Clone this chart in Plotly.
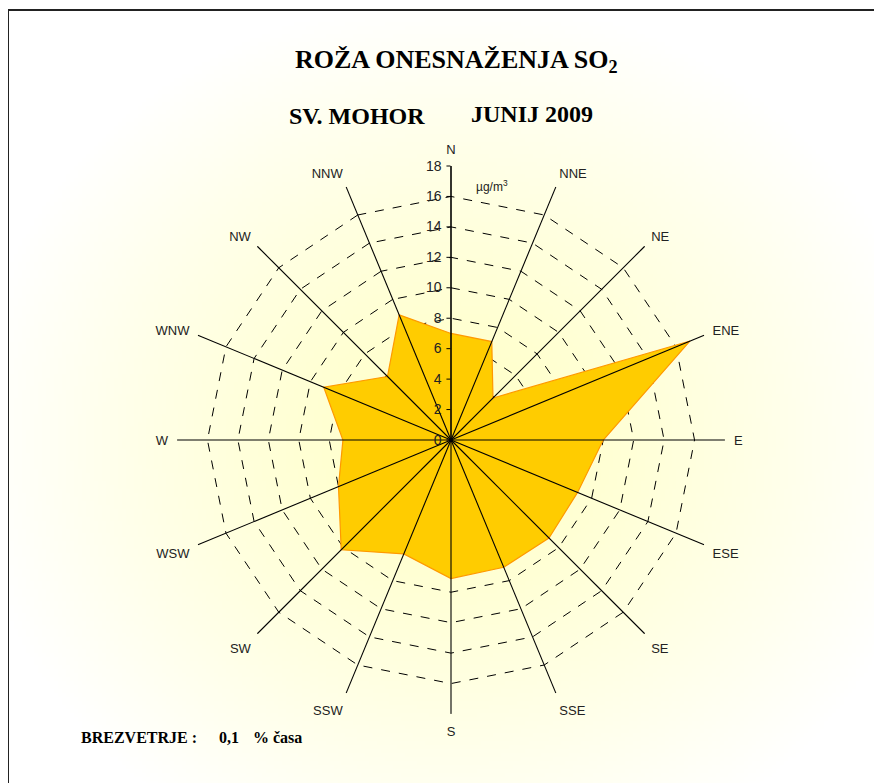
import base64
import struct
import zlib

import numpy as np
import plotly.graph_objects as go

# ---------------- data ----------------
directions = ["N", "NNE", "NE", "ENE", "E", "ESE", "SE", "SSE",
              "S", "SSW", "SW", "WSW", "W", "WNW", "NW", "NNW"]
so2_values = [7.0, 7.0, 3.9, 17.0, 10.0, 9.0, 9.1, 9.05,
              9.1, 8.1, 10.2, 8.0, 7.1, 9.05, 5.9, 8.9]
radial_ticks = [0, 2, 4, 6, 8, 10, 12, 14, 16, 18]
title_text = "ROŽA ONESNAŽENJA SO<sub>2</sub>"
station_text = "SV. MOHOR"
period_text = "JUNIJ 2009"
unit_text = "µg/m<sup>3</sup>"
calm_label = "BREZVETRJE :"
calm_value = "0,1"
calm_unit = "% časa"

W, H = 882, 783
OFF = 8  # page body margin offset
CX, CY, R = 451 - OFF, 440 - OFF, 274
rmax = radial_ticks[-1]


def px_x(x):
    return (x - OFF) / W


def px_y(y):
    return 1 - (y - OFF) / H


# ---------------- background gradient (png) ----------------
def gradient_png(w, h):
    ys, xs = np.mgrid[0:h, 0:w]
    px = xs * (W / w)
    py = ys * (H / h)
    d = np.sqrt(((px - CX) / 480.0) ** 2 + ((py - CY) / 440.0) ** 2)
    t = np.clip(d, 0, 1)
    b = (198 + (255 - 198) * t ** 1.2).astype(np.uint8)
    img = np.zeros((h, w, 3), dtype=np.uint8)
    img[..., 0] = 255
    img[..., 1] = 255
    img[..., 2] = b
    raw = b"".join(b"\x00" + img[y].tobytes() for y in range(h))

    def chunk(tag, data):
        c = struct.pack(">I", len(data)) + tag + data
        return c + struct.pack(">I", zlib.crc32(tag + data) & 0xFFFFFFFF)

    png = b"\x89PNG\r\n\x1a\n"
    png += chunk(b"IHDR", struct.pack(">IIBBBBB", w, h, 8, 2, 0, 0, 0))
    png += chunk(b"IDAT", zlib.compress(raw, 9))
    png += chunk(b"IEND", b"")
    return "data:image/png;base64," + base64.b64encode(png).decode()


bg_src = gradient_png(221, 196)

fig = go.Figure()

# filled rose
fig.add_trace(go.Scatterpolar(
    r=so2_values + [so2_values[0]],
    theta=directions + [directions[0]],
    mode="lines",
    fill="toself",
    fillcolor="#FFCC00",
    line=dict(color="#FF9900", width=1.2),
    hoverinfo="skip",
    showlegend=False,
))

# spokes drawn above the fill
sp_r, sp_t = [], []
for d in directions:
    sp_r += [0, rmax, None]
    sp_t += [d, d, None]
fig.add_trace(go.Scatterpolar(
    r=sp_r, theta=sp_t, mode="lines",
    line=dict(color="black", width=1.1),
    hoverinfo="skip", showlegend=False, connectgaps=False,
))
# center dot
fig.add_trace(go.Scatterpolar(
    r=[0], theta=[directions[0]], mode="markers",
    marker=dict(color="black", size=7),
    hoverinfo="skip", showlegend=False,
))

dom_x = [(CX - R) / W, (CX + R) / W]
dom_y = [(H - CY - R) / H, (H - CY + R) / H]

serif = "Liberation Serif, Times New Roman"
sans = "Liberation Sans, Arial"

fig.update_layout(
    width=W, height=H, autosize=False,
    margin=dict(l=0, r=0, t=0, b=0),
    paper_bgcolor="white",
    plot_bgcolor="rgba(0,0,0,0)",
    images=[dict(source=bg_src, xref="paper", yref="paper", x=0, y=1,
                 sizex=1, sizey=1, sizing="stretch", layer="below")],
    polar=dict(
        domain=dict(x=dom_x, y=dom_y),
        bgcolor="rgba(0,0,0,0)",
        gridshape="linear",
        angularaxis=dict(
            direction="clockwise", rotation=90,
            categoryorder="array", categoryarray=directions,
            showline=False, showgrid=False,
            ticks="outside", ticklen=6, tickcolor="rgba(0,0,0,0)",
            tickfont=dict(family=sans, size=13, color="#222"),
        ),
        radialaxis=dict(
            range=[0, rmax], tickvals=radial_ticks,
            angle=90, tickangle=90,
            side="counterclockwise",
            showline=True, linecolor="black", linewidth=1.1,
            ticks="outside", ticklen=4, tickcolor="black",
            showgrid=True, gridcolor="black", gridwidth=1, griddash="dash",
            tickfont=dict(family=sans, size=14, color="#222"),
        ),
    ),
    shapes=[dict(type="rect", xref="paper", yref="paper",
                 x0=px_x(8), x1=px_x(880), y0=-0.05, y1=px_y(10),
                 line=dict(color="#222", width=2), fillcolor="rgba(0,0,0,0)")],
    annotations=[
        dict(text="<b>" + title_text + "</b>", x=px_x(456), y=px_y(61),
             xref="paper", yref="paper", showarrow=False, xanchor="center", yanchor="middle",
             font=dict(family=serif, size=26, color="black")),
        dict(text="<b>" + station_text + "</b>", x=px_x(357), y=px_y(116),
             xref="paper", yref="paper", showarrow=False, xanchor="center", yanchor="middle",
             font=dict(family=serif, size=24, color="black")),
        dict(text="<b>" + period_text + "</b>", x=px_x(532), y=px_y(114),
             xref="paper", yref="paper", showarrow=False, xanchor="center", yanchor="middle",
             font=dict(family=serif, size=24, color="black")),
        dict(text=unit_text, x=px_x(492), y=px_y(186), xref="paper", yref="paper",
             showarrow=False, xanchor="center", yanchor="middle",
             font=dict(family=sans, size=12, color="#222")),
        dict(text="<b>" + calm_label + "</b>", x=px_x(79), y=px_y(737),
             xref="paper", yref="paper", showarrow=False, xanchor="left", yanchor="middle",
             font=dict(family=serif, size=16, color="black")),
        dict(text="<b>" + calm_value + "</b>", x=px_x(217), y=px_y(737),
             xref="paper", yref="paper", showarrow=False, xanchor="left", yanchor="middle",
             font=dict(family=serif, size=16, color="black")),
        dict(text="<b>" + calm_unit + "</b>", x=px_x(251), y=px_y(737),
             xref="paper", yref="paper", showarrow=False, xanchor="left", yanchor="middle",
             font=dict(family=serif, size=16, color="black")),
    ],
)

fig.write_html("out.html")
